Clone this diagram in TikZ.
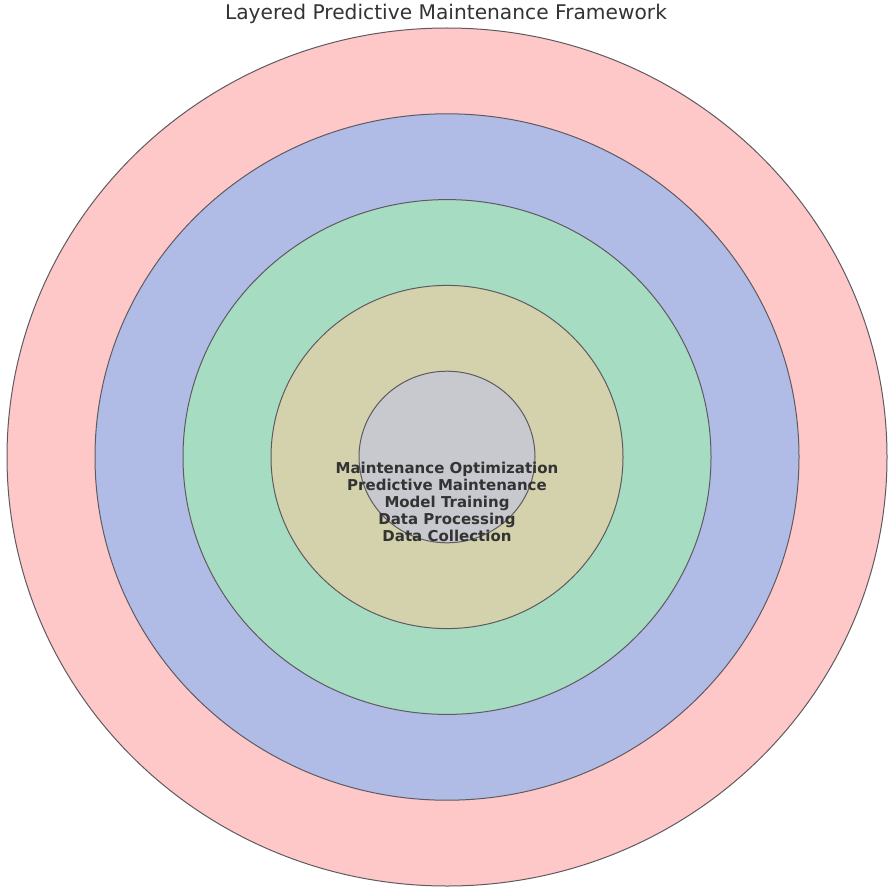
\documentclass[tikz,border=0pt]{standalone}
\usepackage{fontspec}
\setmainfont{DejaVu Sans}
\definecolor{ringA}{RGB}{255,200,200}
\definecolor{ringB}{RGB}{176,188,230}
\definecolor{ringC}{RGB}{166,221,194}
\definecolor{ringD}{RGB}{211,210,172}
\definecolor{ringE}{RGB}{200,201,206}
\definecolor{edge}{RGB}{95,90,95}
\definecolor{txt}{RGB}{51,51,51}
\begin{document}
\begin{tikzpicture}[x=1pt,y=-1pt,
  ring/.style={draw=edge,line width=1pt},
  lbl/.style={text=txt,font=\fontsize{15}{17.2}\selectfont\bfseries,align=center,inner sep=0pt}]
\useasboundingbox (0,0) rectangle (888,888);
\fill[white] (0,0) rectangle (888,888);
\coordinate (c) at (447,457);
\draw[ring,fill=ringA] (c) ellipse [x radius=440,y radius=429];
\draw[ring,fill=ringB] (c) ellipse [x radius=352,y radius=343.2];
\draw[ring,fill=ringC] (c) ellipse [x radius=264,y radius=257.4];
\draw[ring,fill=ringD] (c) ellipse [x radius=176,y radius=171.6];
\draw[ring,fill=ringE] (c) ellipse [x radius=88,y radius=85.8];
\node[lbl] (labels) at (447,502) {Maintenance Optimization\\Predictive Maintenance\\Model Training\\Data Processing\\Data Collection};
\node[text=txt,font=\fontsize{20.2}{24}\selectfont,inner sep=0pt] (title) at (446,14) {Layered Predictive Maintenance Framework};
\end{tikzpicture}
\end{document}
